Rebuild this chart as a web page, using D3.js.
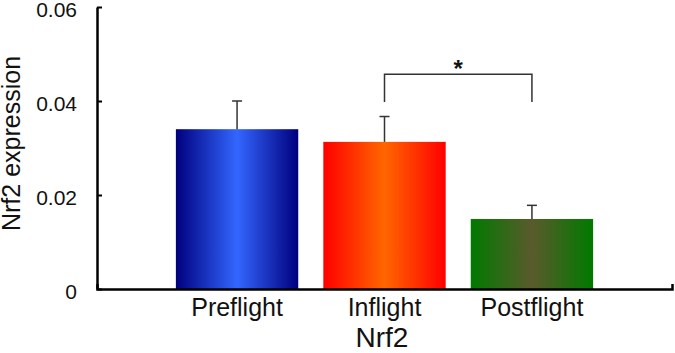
<!DOCTYPE html>
<html>
<head>
<meta charset="utf-8">
<script src="https://cdn.jsdelivr.net/npm/d3@7"></script>
<style>
  body { margin: 0; background: #fff; }
  svg { display: block; font-family: "Liberation Sans", Arial, sans-serif; }
</style>
</head>
<body>
<div id="chart"></div>
<script>
// Data
const groups = ["Preflight", "Inflight", "Postflight"];
const means = [0.0340, 0.0313, 0.0149];
const errors = [0.0060, 0.0054, 0.0029];
const yTicks = [0, 0.02, 0.04, 0.06];
// significance bracket between Inflight and Postflight
const sigPair = ["Inflight", "Postflight"];
const sigLevels = [0.0457, 0.0398]; // bracket top, leg bottom
const sigMark = "*";

// gradient stops: edge colour, centre colour
const barColors = [
  ["#00007e", "#3366ff"],
  ["#ff0000", "#ff6600"],
  ["#007a00", "#5a5a2c"]
];

const width = 675;
const height = 353;

const svg = d3.select("#chart")
  .append("svg")
  .attr("width", width)
  .attr("height", height);

const x = d3.scaleBand()
  .domain(groups)
  .range([97, 672])
  .paddingInner(0.17)
  .paddingOuter(0.535);

const y = d3.scaleLinear()
  .domain([0, 0.06])
  .range([289, 7]);

// horizontal gradients for each bar
const defs = svg.append("defs");
groups.forEach((g, i) => {
  const grad = defs.append("linearGradient")
    .attr("id", "grad" + i)
    .attr("x1", "0%").attr("x2", "100%")
    .attr("y1", "0%").attr("y2", "0%");
  grad.append("stop").attr("offset", "0%").attr("stop-color", barColors[i][0]);
  grad.append("stop").attr("offset", "50%").attr("stop-color", barColors[i][1]);
  grad.append("stop").attr("offset", "100%").attr("stop-color", barColors[i][0]);
});

// bars
svg.selectAll(".bar")
  .data(groups)
  .enter()
  .append("rect")
  .attr("class", "bar")
  .attr("x", d => x(d))
  .attr("width", x.bandwidth())
  .attr("y", (d, i) => y(means[i]))
  .attr("height", (d, i) => y(0) - y(means[i]))
  .attr("fill", (d, i) => `url(#grad${i})`);

// error bars (upper only)
const err = svg.selectAll(".err")
  .data(groups)
  .enter()
  .append("g")
  .attr("class", "err")
  .attr("stroke", "#333")
  .attr("stroke-width", 1.5);

err.append("line")
  .attr("x1", d => x(d) + x.bandwidth() / 2)
  .attr("x2", d => x(d) + x.bandwidth() / 2)
  .attr("y1", (d, i) => y(means[i]))
  .attr("y2", (d, i) => y(means[i] + errors[i]));

err.append("line")
  .attr("x1", d => x(d) + x.bandwidth() / 2 - 5)
  .attr("x2", d => x(d) + x.bandwidth() / 2 + 5)
  .attr("y1", (d, i) => y(means[i] + errors[i]))
  .attr("y2", (d, i) => y(means[i] + errors[i]));

// y axis, ticks pointing inward
const yAxis = svg.append("g")
  .attr("transform", "translate(97,0)")
  .call(d3.axisLeft(y)
    .tickValues(yTicks)
    .tickSizeInner(-5)
    .tickSizeOuter(0)
    .tickPadding(20)
    .tickFormat(d => d === 0 ? "0" : d3.format(".2f")(d)));

yAxis.select(".domain").attr("stroke", "#000").attr("stroke-width", 2.5);
yAxis.selectAll(".tick line").attr("stroke", "#000").attr("stroke-width", 2);
yAxis.selectAll(".tick text")
  .attr("font-family", "Liberation Sans, Arial, sans-serif")
  .attr("font-size", 21)
  .attr("fill", "#111")
  .attr("dy", "0.45em");

// x axis with small upward end tick
const xAxis = svg.append("g")
  .attr("transform", "translate(0,289)")
  .call(d3.axisBottom(x)
    .tickSizeInner(0)
    .tickSizeOuter(-5)
    .tickPadding(9));

xAxis.select(".domain").attr("stroke", "#000").attr("stroke-width", 2.5);
xAxis.selectAll(".tick text")
  .attr("font-family", "Liberation Sans, Arial, sans-serif")
  .attr("font-size", 25)
  .attr("fill", "#111");

// axis titles
svg.append("text")
  .attr("x", 382)
  .attr("y", 347)
  .attr("text-anchor", "middle")
  .attr("font-size", 28)
  .attr("fill", "#111")
  .text("Nrf2");

svg.append("text")
  .attr("transform", "translate(20,143.5) rotate(-90)")
  .attr("text-anchor", "middle")
  .attr("font-size", 25)
  .attr("fill", "#111")
  .text("Nrf2 expression");

// significance bracket
const bx1 = x(sigPair[0]) + x.bandwidth() / 2;
const bx2 = x(sigPair[1]) + x.bandwidth() / 2;
svg.append("path")
  .attr("d", `M${bx1},${y(sigLevels[1])}V${y(sigLevels[0])}H${bx2}V${y(sigLevels[1])}`)
  .attr("fill", "none")
  .attr("stroke", "#333")
  .attr("stroke-width", 1.5);

svg.append("text")
  .attr("x", (bx1 + bx2) / 2)
  .attr("y", 77)
  .attr("text-anchor", "middle")
  .attr("font-size", 24)
  .attr("font-weight", "bold")
  .attr("fill", "#111")
  .text(sigMark);
</script>
</body>
</html>
